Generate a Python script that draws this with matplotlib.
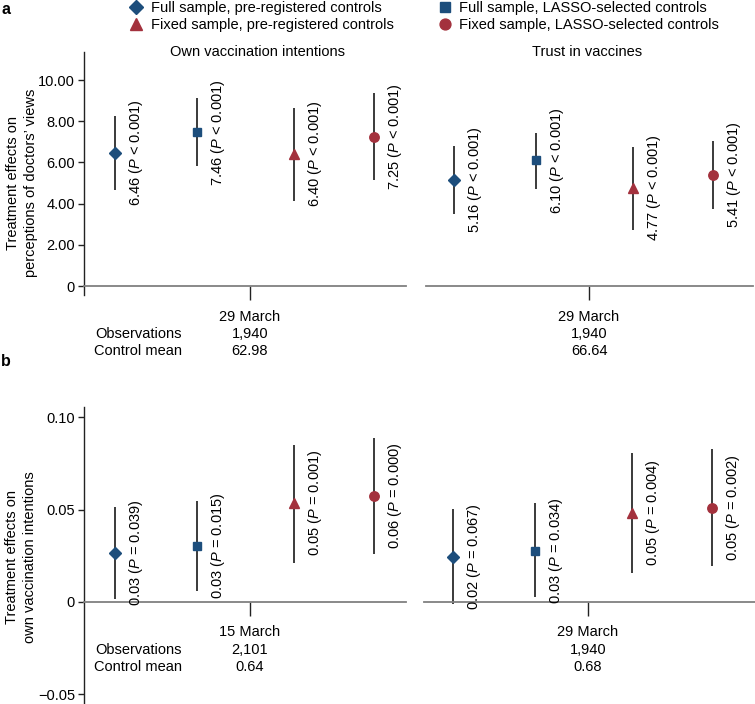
import matplotlib
matplotlib.use("Agg")
import matplotlib.pyplot as plt
from matplotlib.lines import Line2D

plt.rcParams['font.family'] = ['Liberation Sans', 'DejaVu Sans']
plt.rcParams['mathtext.fontset'] = 'custom'
plt.rcParams['mathtext.it'] = 'Liberation Sans:italic'
plt.rcParams['mathtext.rm'] = 'Liberation Sans'

# ---------------- data ----------------
series_names = ["Full sample, pre-registered controls",
                "Fixed sample, pre-registered controls",
                "Full sample, LASSO-selected controls",
                "Fixed sample, LASSO-selected controls"]
# order of points within each group: full/pre, full/lasso, fixed/pre, fixed/lasso
point_order = ["full_pre", "full_lasso", "fixed_pre", "fixed_lasso"]

a_titles = ["Own vaccination intentions", "Trust in vaccines"]
a_dates = ["29 March", "29 March"]
a_obs = ["1,940", "1,940"]
a_ctrl = ["62.98", "66.64"]
a_est_own = [6.46, 7.46, 6.40, 7.25]
a_lo_own = [4.66, 5.81, 4.14, 5.16]
a_hi_own = [8.24, 9.11, 8.64, 9.36]
a_p_own = ["< 0.001", "< 0.001", "< 0.001", "< 0.001"]
a_lbl_own = ["6.46", "7.46", "6.40", "7.25"]
a_est_trust = [5.16, 6.10, 4.77, 5.41]
a_lo_trust = [3.48, 4.69, 2.72, 3.74]
a_hi_trust = [6.78, 7.41, 6.76, 7.02]
a_p_trust = ["< 0.001", "< 0.001", "< 0.001", "< 0.001"]
a_lbl_trust = ["5.16", "6.10", "4.77", "5.41"]

b_dates = ["15 March", "29 March"]
b_obs = ["2,101", "1,940"]
b_ctrl = ["0.64", "0.68"]
b_est_mar15 = [0.0265, 0.0303, 0.0535, 0.0574]
b_lo_mar15 = [0.0015, 0.0060, 0.0210, 0.0262]
b_hi_mar15 = [0.0515, 0.0547, 0.0850, 0.0888]
b_p_mar15 = ["= 0.039", "= 0.015", "= 0.001", "= 0.000"]
b_lbl_mar15 = ["0.03", "0.03", "0.05", "0.06"]
b_est_mar29 = [0.0242, 0.0278, 0.0484, 0.0511]
b_lo_mar29 = [-0.0012, 0.0025, 0.0159, 0.0195]
b_hi_mar29 = [0.0502, 0.0535, 0.0805, 0.0829]
b_p_mar29 = ["= 0.067", "= 0.034", "= 0.004", "= 0.002"]
b_lbl_mar29 = ["0.02", "0.03", "0.05", "0.05"]

a_yticks = [0, 2, 4, 6, 8, 10]
a_yticklabels = ["0", "2.00", "4.00", "6.00", "8.00", "10.00"]
b_yticks = [-0.05, 0, 0.05, 0.10]
b_yticklabels = ["\u22120.05", "0", "0.05", "0.10"]

# ---------------- style ----------------
BLUE = "#1d4e7c"
RED = "#a3313d"
marker_style = {
    "full_pre": dict(marker="D", color=BLUE, ms=6.5),
    "full_lasso": dict(marker="s", color=BLUE, ms=6.2),
    "fixed_pre": dict(marker="^", color=RED, ms=7.5),
    "fixed_lasso": dict(marker="o", color=RED, ms=6.8),
}
FS = 10.5
xpos = [-1.35, -0.53, 0.44, 1.24]

W, H = 755, 704
fig = plt.figure(figsize=(W / 100, H / 100), dpi=100)


def rect(x0, x1, ytop, ybot):
    return [x0 / W, 1 - ybot / H, (x1 - x0) / W, (ybot - ytop) / H]


def make_axes(r, xlim, ylim, left_axis, yticks=None, yticklabels=None):
    ax = fig.add_axes(r)
    ax.set_xlim(*xlim)
    ax.set_ylim(*ylim)
    ax.patch.set_alpha(0)
    for s in ["top", "right"]:
        ax.spines[s].set_visible(False)
    ax.spines["bottom"].set_position(("data", 0))
    ax.spines["bottom"].set_color("#808080")
    ax.spines["bottom"].set_linewidth(1.3)
    ax.set_xticks([0])
    ax.set_xticklabels([])
    ax.tick_params(axis="x", length=10, width=1.0, color="#222222")
    if left_axis:
        ax.spines["left"].set_color("#222222")
        ax.spines["left"].set_linewidth(1.0)
        ax.set_yticks(yticks)
        ax.set_yticklabels(yticklabels, fontsize=FS)
        ax.tick_params(axis="y", length=4.5, width=1.0, color="#222222", pad=2)
    else:
        ax.spines["left"].set_visible(False)
        ax.set_yticks([])
    return ax


def draw_points(ax, est, lo, hi, lbls, ps):
    for i, key in enumerate(point_order):
        ax.plot([xpos[i], xpos[i]], [lo[i], hi[i]], color="#2b2b2b", lw=1.3,
                solid_capstyle="butt", zorder=2)
        st = marker_style[key]
        ax.plot([xpos[i]], [est[i]], marker=st["marker"], color=st["color"],
                ms=st["ms"], mec=st["color"], ls="none", zorder=3)
        ax.annotate(f"{lbls[i]} ($P$ {ps[i]})", xy=(xpos[i], est[i]),
                    xytext=(8.5, 0), textcoords="offset points",
                    rotation=90, ha="left", va="center", fontsize=FS)


def draw_footer(ax, date, obs, ctrl, show_names):
    ax.annotate(date, xy=(0, 0), xytext=(0, -22), textcoords="offset points",
                ha="center", va="center", fontsize=FS)
    ax.annotate(obs, xy=(0, 0), xytext=(0, -34.5), textcoords="offset points",
                ha="center", va="center", fontsize=FS)
    ax.annotate(ctrl, xy=(0, 0), xytext=(0, -47), textcoords="offset points",
                ha="center", va="center", fontsize=FS)
    if show_names:
        ax.annotate("Observations", xy=(0, 0), xytext=(-49, -34.5),
                    textcoords="offset points", ha="right", va="center", fontsize=FS)
        ax.annotate("Control mean", xy=(0, 0), xytext=(-49, -47),
                    textcoords="offset points", ha="right", va="center", fontsize=FS)


# ---------------- panel a ----------------
ylim_a = (-0.45, 11.36)
ax_a1 = make_axes(rect(84, 406, 52, 295.3), (-1.66, 1.56), ylim_a, True,
                  a_yticks, a_yticklabels)
ax_a2 = make_axes(rect(426, 753, 52, 295.3), (-1.63, 1.64), ylim_a, False)
draw_points(ax_a1, a_est_own, a_lo_own, a_hi_own, a_lbl_own, a_p_own)
draw_points(ax_a2, a_est_trust, a_lo_trust, a_hi_trust, a_lbl_trust, a_p_trust)
draw_footer(ax_a1, a_dates[0], a_obs[0], a_ctrl[0], True)
draw_footer(ax_a2, a_dates[1], a_obs[1], a_ctrl[1], False)
fig.text(257 / W, 1 - 52 / H, a_titles[0], ha="center", va="center", fontsize=FS)
fig.text(587 / W, 1 - 52 / H, a_titles[1], ha="center", va="center", fontsize=FS)
fig.text(22 / W, 1 - 183 / H, "Treatment effects on\nperceptions of doctors\u2019 views",
         rotation=90, ha="center", va="center", fontsize=FS, linespacing=1.3)

# ---------------- panel b ----------------
ylim_b = (-0.0553, 0.1056)
ax_b1 = make_axes(rect(84, 406, 407, 704), (-1.66, 1.56), ylim_b, True,
                  b_yticks, b_yticklabels)
ax_b2 = make_axes(rect(424, 755, 407, 704), (-1.64, 1.67), ylim_b, False)
draw_points(ax_b1, b_est_mar15, b_lo_mar15, b_hi_mar15, b_lbl_mar15, b_p_mar15)
draw_points(ax_b2, b_est_mar29, b_lo_mar29, b_hi_mar29, b_lbl_mar29, b_p_mar29)
draw_footer(ax_b1, b_dates[0], b_obs[0], b_ctrl[0], True)
draw_footer(ax_b2, b_dates[1], b_obs[1], b_ctrl[1], False)
fig.text(21 / W, 1 - 557 / H, "Treatment effects on\nown vaccination intentions",
         rotation=90, ha="center", va="center", fontsize=FS, linespacing=1.3)

# ---------------- panel letters ----------------
fig.text(1 / W, 1 - 9 / H, "a", fontweight="bold", fontsize=11.5, ha="left", va="center")
fig.text(1 / W, 1 - 362 / H, "b", fontweight="bold", fontsize=11.5, ha="left", va="center")

# ---------------- legend ----------------
keys_for_legend = ["full_pre", "fixed_pre", "full_lasso", "fixed_lasso"]
name_for_key = dict(zip(["full_pre", "fixed_pre", "full_lasso", "fixed_lasso"], series_names))
handles = [Line2D([], [], ls="none", marker=marker_style[k]["marker"],
                  color=marker_style[k]["color"], ms=marker_style[k]["ms"] * 1.15)
           for k in keys_for_legend]
labels = [name_for_key[k] for k in keys_for_legend]
fig.legend(handles, labels, ncol=2, loc="upper left", bbox_to_anchor=(129 / W, 1 - 1 / H),
           frameon=False, fontsize=FS, handlelength=1.0, handletextpad=0.5,
           columnspacing=3.0, labelspacing=0.22, borderpad=0.0, borderaxespad=0.0)

fig.savefig("out.png", dpi=100)
